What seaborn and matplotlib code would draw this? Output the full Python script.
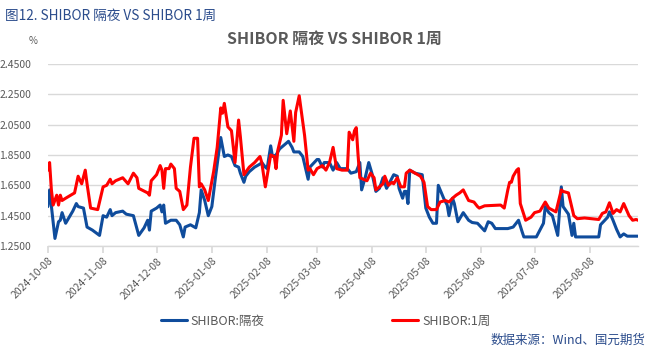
import matplotlib

matplotlib.use("Agg")
import matplotlib.dates as mdates
import matplotlib.pyplot as plt
import pandas as pd
import seaborn as sns
from matplotlib.ticker import FormatStrFormatter

TITLE = "SHIBOR 隔夜 VS SHIBOR 1周"
HEADER = "图12. SHIBOR 隔夜 VS SHIBOR 1周"
SOURCE = "数据来源：Wind、国元期货"
LABEL_ON = "SHIBOR:隔夜"
LABEL_1W = "SHIBOR:1周"

overnight_dates = [
    "2024-10-08", "2024-10-09", "2024-10-12", "2024-10-14", "2024-10-15", "2024-10-16",
    "2024-10-18", "2024-10-20", "2024-10-22", "2024-10-24", "2024-10-25", "2024-10-28",
    "2024-10-30", "2024-11-02", "2024-11-06", "2024-11-08", "2024-11-10", "2024-11-12",
    "2024-11-13", "2024-11-15", "2024-11-19", "2024-11-21", "2024-11-25", "2024-11-28",
    "2024-12-01", "2024-12-03", "2024-12-04", "2024-12-05", "2024-12-08", "2024-12-10",
    "2024-12-11", "2024-12-12", "2024-12-13", "2024-12-16", "2024-12-19", "2024-12-21",
    "2024-12-23", "2024-12-24", "2024-12-27", "2024-12-30", "2025-01-01", "2025-01-02",
    "2025-01-04", "2025-01-06", "2025-01-08", "2025-01-10", "2025-01-13", "2025-01-15",
    "2025-01-17", "2025-01-19", "2025-01-21", "2025-01-23", "2025-01-24", "2025-01-26",
    "2025-01-27", "2025-01-29", "2025-02-01", "2025-02-04", "2025-02-05", "2025-02-07",
    "2025-02-08", "2025-02-10", "2025-02-11", "2025-02-13", "2025-02-15", "2025-02-17",
    "2025-02-19", "2025-02-20", "2025-02-22", "2025-02-23", "2025-02-26", "2025-02-28",
    "2025-03-03", "2025-03-04", "2025-03-08", "2025-03-09", "2025-03-11", "2025-03-12",
    "2025-03-15", "2025-03-17", "2025-03-19", "2025-03-21", "2025-03-25", "2025-03-27",
    "2025-03-30", "2025-04-01", "2025-04-02", "2025-04-04", "2025-04-06", "2025-04-08",
    "2025-04-10", "2025-04-12", "2025-04-14", "2025-04-16", "2025-04-20", "2025-04-22",
    "2025-04-23", "2025-04-25", "2025-04-26", "2025-04-27", "2025-04-28", "2025-04-29",
    "2025-05-02", "2025-05-06", "2025-05-08", "2025-05-10", "2025-05-12", "2025-05-14",
    "2025-05-15", "2025-05-18", "2025-05-20", "2025-05-21", "2025-05-23", "2025-05-24",
    "2025-05-26", "2025-05-29", "2025-06-01", "2025-06-03", "2025-06-06", "2025-06-08",
    "2025-06-10", "2025-06-12", "2025-06-14", "2025-06-16", "2025-06-23", "2025-06-26",
    "2025-06-29", "2025-07-01", "2025-07-02", "2025-07-09", "2025-07-13", "2025-07-14",
    "2025-07-16", "2025-07-18", "2025-07-21", "2025-07-23", "2025-07-24", "2025-07-27",
    "2025-07-29", "2025-07-30", "2025-07-31", "2025-08-13", "2025-08-14", "2025-08-18",
    "2025-08-19", "2025-08-21", "2025-08-23", "2025-08-25", "2025-08-27", "2025-08-29",
    "2025-09-04",
]
overnight = [
    1.51, 1.62, 1.30, 1.41, 1.42, 1.47,
    1.40, 1.44, 1.48, 1.53, 1.51, 1.50,
    1.375, 1.355, 1.32, 1.45, 1.44, 1.49,
    1.45, 1.47, 1.48, 1.46, 1.45, 1.32,
    1.37, 1.42, 1.355, 1.48, 1.50, 1.52,
    1.475, 1.52, 1.40, 1.42, 1.42, 1.39,
    1.31, 1.375, 1.39, 1.37, 1.47, 1.62,
    1.55, 1.45, 1.51, 1.70, 1.965, 1.84,
    1.85, 1.84, 1.78, 1.77, 1.73, 1.67,
    1.71, 1.74, 1.77, 1.79, 1.80, 1.77,
    1.76, 1.91, 1.84, 1.85, 1.89, 1.91,
    1.93, 1.94, 1.90, 1.87, 1.87, 1.84,
    1.69, 1.77, 1.82, 1.82, 1.77, 1.80,
    1.80, 1.75, 1.80, 1.76, 1.76, 1.73,
    1.74, 1.80, 1.62, 1.70, 1.80, 1.72,
    1.61, 1.63, 1.70, 1.63, 1.72, 1.71,
    1.63, 1.565, 1.61, 1.61, 1.53, 1.75,
    1.73, 1.72, 1.50, 1.44, 1.40, 1.40,
    1.65, 1.565, 1.52, 1.45, 1.565, 1.53,
    1.41, 1.47, 1.42, 1.405, 1.40, 1.375,
    1.35, 1.41, 1.40, 1.365, 1.365, 1.375,
    1.42, 1.345, 1.31, 1.31, 1.40, 1.51,
    1.47, 1.45, 1.32, 1.64, 1.51, 1.46,
    1.32, 1.40, 1.31, 1.31, 1.39, 1.44,
    1.475, 1.42, 1.36, 1.31, 1.33, 1.315,
    1.315,
]

week_dates = [
    "2024-10-08", "2024-10-09", "2024-10-10", "2024-10-11", "2024-10-13", "2024-10-14",
    "2024-10-15", "2024-10-16", "2024-10-18", "2024-10-23", "2024-10-25", "2024-10-27",
    "2024-10-29", "2024-10-30", "2024-11-01", "2024-11-05", "2024-11-08", "2024-11-10",
    "2024-11-12", "2024-11-13", "2024-11-15", "2024-11-19", "2024-11-22", "2024-11-25",
    "2024-11-27", "2024-11-28", "2024-12-03", "2024-12-04", "2024-12-05", "2024-12-08",
    "2024-12-10", "2024-12-11", "2024-12-12", "2024-12-13", "2024-12-15", "2024-12-16",
    "2024-12-18", "2024-12-19", "2024-12-21", "2024-12-23", "2024-12-25", "2024-12-27",
    "2024-12-29", "2024-12-31", "2025-01-01", "2025-01-02", "2025-01-04", "2025-01-06",
    "2025-01-09", "2025-01-11", "2025-01-13", "2025-01-14", "2025-01-15", "2025-01-17",
    "2025-01-19", "2025-01-21", "2025-01-23", "2025-01-24", "2025-01-26", "2025-01-29",
    "2025-02-01", "2025-02-04", "2025-02-05", "2025-02-07", "2025-02-10", "2025-02-12",
    "2025-02-13", "2025-02-14", "2025-02-16", "2025-02-17", "2025-02-19", "2025-02-21",
    "2025-02-23", "2025-02-24", "2025-02-26", "2025-03-01", "2025-03-03", "2025-03-04",
    "2025-03-06", "2025-03-08", "2025-03-11", "2025-03-13", "2025-03-15", "2025-03-17",
    "2025-03-19", "2025-03-22", "2025-03-25", "2025-03-26", "2025-03-28", "2025-03-29",
    "2025-03-30", "2025-03-31", "2025-04-01", "2025-04-05", "2025-04-07", "2025-04-09",
    "2025-04-10", "2025-04-12", "2025-04-14", "2025-04-15", "2025-04-17", "2025-04-19",
    "2025-04-20", "2025-04-22", "2025-04-24", "2025-04-26", "2025-04-27", "2025-04-29",
    "2025-05-02", "2025-05-05", "2025-05-07", "2025-05-09", "2025-05-11", "2025-05-14",
    "2025-05-16", "2025-05-19", "2025-05-21", "2025-05-23", "2025-05-25", "2025-05-27",
    "2025-05-29", "2025-06-01", "2025-06-04", "2025-06-06", "2025-06-07", "2025-06-10",
    "2025-06-19", "2025-06-21", "2025-06-23", "2025-06-24", "2025-06-25", "2025-06-26",
    "2025-06-28", "2025-06-29", "2025-06-30", "2025-07-03", "2025-07-06", "2025-07-08",
    "2025-07-11", "2025-07-14", "2025-07-16", "2025-07-20", "2025-07-23", "2025-07-24",
    "2025-07-27", "2025-07-30", "2025-08-01", "2025-08-05", "2025-08-13", "2025-08-15",
    "2025-08-17", "2025-08-19", "2025-08-21", "2025-08-23", "2025-08-25", "2025-08-27",
    "2025-08-30", "2025-09-01", "2025-09-03", "2025-09-04",
]
one_week = [
    1.75, 1.80, 1.62, 1.52, 1.585, 1.52,
    1.585, 1.55, 1.565, 1.60, 1.71, 1.66,
    1.75, 1.66, 1.50, 1.49, 1.64, 1.65,
    1.69, 1.66, 1.68, 1.70, 1.66, 1.73,
    1.70, 1.63, 1.60, 1.585, 1.68, 1.72,
    1.78, 1.75, 1.63, 1.76, 1.76, 1.79,
    1.76, 1.63, 1.61, 1.49, 1.52, 1.77,
    1.96, 1.96, 1.64, 1.66, 1.62, 1.55,
    1.74, 1.90, 2.16, 2.125, 2.19, 2.035,
    2.01, 1.80, 2.08, 1.97, 1.72, 1.77,
    1.80, 1.84, 1.80, 1.64, 1.85, 1.84,
    1.76, 1.88, 1.98, 2.21, 1.99, 2.14,
    1.94, 2.13, 2.24, 1.98, 1.75, 1.76,
    1.72, 1.76, 1.78, 1.75, 1.80, 1.90,
    1.76, 1.75, 1.75, 2.00, 1.95, 2.01,
    2.03, 1.85, 1.70, 1.68, 1.73, 1.70,
    1.62, 1.64, 1.66, 1.71, 1.65, 1.67,
    1.66, 1.70, 1.64, 1.64, 1.73, 1.75,
    1.73, 1.71, 1.67, 1.51, 1.49, 1.49,
    1.54, 1.55, 1.54, 1.565, 1.585, 1.60,
    1.62, 1.55, 1.54, 1.51, 1.50, 1.515,
    1.52, 1.50, 1.62, 1.67, 1.67, 1.71,
    1.75, 1.76, 1.53, 1.42, 1.44, 1.47,
    1.48, 1.54, 1.50, 1.475, 1.62, 1.61,
    1.60, 1.45, 1.43, 1.435, 1.425, 1.465,
    1.475, 1.535, 1.465, 1.49, 1.475, 1.53,
    1.45, 1.42, 1.425, 1.42,
]

tick_dates = [
    "2024-10-08", "2024-11-08", "2024-12-08", "2025-01-08", "2025-02-08", "2025-03-08",
    "2025-04-08", "2025-05-08", "2025-06-08", "2025-07-08", "2025-08-08",
]
y_ticks = [1.25, 1.45, 1.65, 1.85, 2.05, 2.25, 2.45]

BLUE = "#0F4C9C"
RED = "#FF0000"
TEXT = "#595959"
GRID = "#D9D9D9"
NAVY = "#2B4C8C"

sns.set_theme(style="white")
plt.rcParams["font.family"] = ["Noto Sans CJK SC", "DejaVu Sans"]

on_df = pd.DataFrame({"date": pd.to_datetime(overnight_dates), "rate": overnight})
wk_df = pd.DataFrame({"date": pd.to_datetime(week_dates), "rate": one_week})

fig = plt.figure(figsize=(6.55, 3.53), dpi=100)
ax = fig.add_axes([0.073, 0.303, 0.901, 0.516])

sns.lineplot(data=on_df, x="date", y="rate", color=BLUE, linewidth=2.2, ax=ax, label=LABEL_ON)
sns.lineplot(data=wk_df, x="date", y="rate", color=RED, linewidth=2.2, ax=ax, label=LABEL_1W)

ax.set_xlim(on_df["date"].min(), on_df["date"].max())
ax.set_ylim(1.25, 2.45)
ax.set_yticks(y_ticks)
ax.yaxis.set_major_formatter(FormatStrFormatter("%.4f"))
ax.set_xticks(pd.to_datetime(tick_dates))
ax.xaxis.set_major_formatter(mdates.DateFormatter("%Y-%m-%d"))
ax.grid(axis="y", color=GRID, linewidth=1)
ax.set_axisbelow(True)
ax.set_xlabel("")
ax.set_ylabel("")

for side in ["top", "right", "left"]:
    ax.spines[side].set_visible(False)
ax.spines["bottom"].set_color(GRID)
ax.spines["bottom"].set_linewidth(1)

ax.tick_params(axis="x", bottom=True, length=5, color=GRID, labelsize=7.5,
               labelcolor=TEXT, pad=2)
ax.tick_params(axis="y", left=False, labelsize=7.5, labelcolor=TEXT, pad=6)
for lbl in ax.get_xticklabels():
    lbl.set_rotation(45)
    lbl.set_ha("right")
    lbl.set_va("top")
    lbl.set_rotation_mode("anchor")

handles, labels = ax.get_legend_handles_labels()
ax.get_legend().remove()
fig.legend(handles, labels, loc="center", bbox_to_anchor=(0.497, 0.09), ncol=2,
           frameon=False, fontsize=9, handlelength=2.1, handletextpad=0.3,
           columnspacing=10.2, labelcolor=TEXT)

fig.text(0.008, 0.975, HEADER, fontsize=9.8, color=NAVY, va="top", ha="left")
fig.text(0.043, 0.885, "%", fontsize=7, color=TEXT, va="center", ha="left")
fig.text(0.51, 0.89, TITLE, fontsize=11.5, fontweight="bold", color=TEXT,
         va="center", ha="center")
fig.text(0.985, 0.035, SOURCE, fontsize=9, color=NAVY, va="center", ha="right")

fig.savefig("out.png", dpi=100)
